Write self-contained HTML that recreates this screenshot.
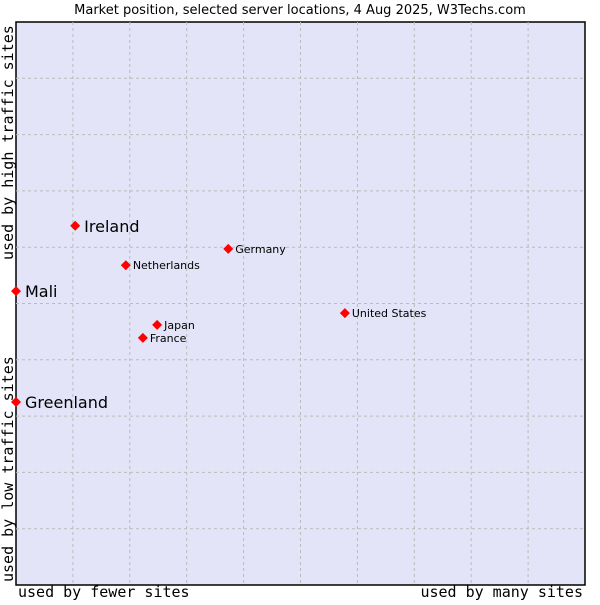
<!DOCTYPE html>
<html><head><meta charset="utf-8"><style>
body{margin:0;background:#fff;}
svg text{font-family:"DejaVu Sans","Liberation Sans",sans-serif;}
.mono{font-family:"DejaVu Sans Mono","Liberation Mono",monospace;font-size:15px;fill:#000;}
</style></head><body>
<svg id="chart" width="600" height="600">
<text x="300" y="14" text-anchor="middle" font-size="13">Market position, selected server locations, 4 Aug 2025, W3Techs.com</text>
<rect x="16" y="22" width="569" height="563" fill="#e3e4f8" stroke="#000" stroke-width="1.5"/>
<g id="grid"></g>
<g id="points"></g>
<text class="mono" x="18" y="597">used by fewer sites</text>
<text class="mono" x="583" y="597" text-anchor="end">used by many sites</text>
<text class="mono" transform="translate(13,260) rotate(-90)">used by high traffic sites</text>
<text class="mono" transform="translate(13,582) rotate(-90)">used by low traffic sites</text>
</svg>
<script>
const names=["Ireland","Mali","Greenland","Netherlands","Germany","United States","Japan","France"];
const xVals=[1.04,0,0,1.93,3.73,5.78,2.48,2.23];
const yVals=[6.38,5.22,3.25,5.68,5.97,4.83,4.62,4.39];
const bigLabel=[true,true,true,false,false,false,false,false];
const NS="http://www.w3.org/2000/svg";
const L=16,T=22,W=569,H=563;
const sx=v=>L+v/10*W, sy=v=>T+H-v/10*H;
const grid=document.getElementById('grid');
for(let i=1;i<10;i++){
 const v=document.createElementNS(NS,'line');
 v.setAttribute('x1',sx(i));v.setAttribute('x2',sx(i));v.setAttribute('y1',T);v.setAttribute('y2',T+H);
 v.setAttribute('stroke','#bbb');v.setAttribute('stroke-dasharray','3,3');
 
 
 grid.appendChild(v);
 const h=document.createElementNS(NS,'line');
 h.setAttribute('y1',sy(i));h.setAttribute('y2',sy(i));h.setAttribute('x1',L);h.setAttribute('x2',L+W);
 h.setAttribute('stroke','#bbb');h.setAttribute('stroke-dasharray','3,3');
 
 
 grid.appendChild(h);
}
const pts=document.getElementById('points');
names.forEach((n,i)=>{
 const x=sx(xVals[i]),y=sy(yVals[i]);
 const d=document.createElementNS(NS,'polygon');
 d.setAttribute('points',`${x},${y-5} ${x+5},${y} ${x},${y+5} ${x-5},${y}`);
 d.setAttribute('fill','#f00');
 
 
 pts.appendChild(d);
 const t=document.createElementNS(NS,'text');
 t.setAttribute('x',x+(bigLabel[i]?9:7));
 t.setAttribute('y',y+(bigLabel[i]?6:4));
 t.setAttribute('font-size',bigLabel[i]?16:11);
 t.textContent=n;
 
 
 pts.appendChild(t);
});
</script>
</body></html>
